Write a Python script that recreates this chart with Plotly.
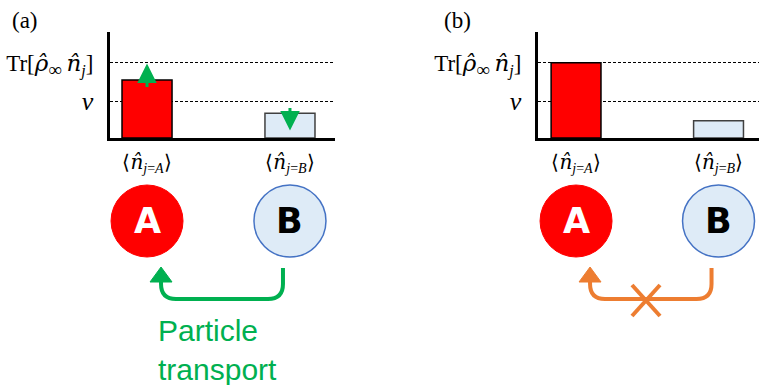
import plotly.graph_objects as go

W, H = 759, 385

# ---- data -------------------------------------------------------------
categories = ["A", "B"]
cat_pos = [0, 1]
occupation_a = [0.77, 0.33]   # panel (a): transport active
occupation_b = [1.00, 0.23]   # panel (b): transport blocked
nu_level = 0.48
tr_level = 1.00
y_top = 1.41

MATH = "font-family:DejaVu Serif"
x_ticktext = [f"⟨<span style='{MATH}'><i>n̂</i></span><sub><i>j</i>=<i>A</i></sub>⟩",
              f"⟨<span style='{MATH}'><i>n̂</i></span><sub><i>j</i>=<i>B</i></sub>⟩"]
y_ticktext = ["<span style='font-size:26px'><i>ν</i></span>",
              f"Tr[<span style='{MATH}'><i>ρ̂</i></span>"
              f"<sub><span style='font-size:19px'>∞</span></sub>"
              f"<span style='{MATH}'>\u2009<i>n̂</i></span><sub><i>j</i></sub>]"]

bar_fill = ["#FF0000", "#DEEBF7"]
bar_edge = ["#000000", "#404040"]
GREEN = "#00B050"
ORANGE = "#ED7D31"
SERIF = "Liberation Serif"

# ---- axis geometry ----------------------------------------------------
y_dom = [1 - 138 / H, 1 - 32 / H]
xa_dom, xa_rng = [110 / W, 335 / W], [-0.259, 1.315]
xb_dom, xb_rng = [538 / W, 1.0], [-0.267, 1.284]


def px(dom, rng, v):
    """pixel x of a category value on a bar axis"""
    return (dom[0] + (v - rng[0]) / (rng[1] - rng[0]) * (dom[1] - dom[0])) * W


def X(p):
    return p / W


def Y(p):
    return 1 - p / H


fig = go.Figure()
for vals, xr, yr in [(occupation_a, "x", "y"), (occupation_b, "x2", "y2")]:
    fig.add_trace(go.Bar(
        x=cat_pos, y=vals, width=0.35, xaxis=xr, yaxis=yr,
        marker=dict(color=bar_fill, line=dict(color=bar_edge, width=1.5)),
        showlegend=False, hoverinfo="skip"))

common_x = dict(showgrid=False, zeroline=False, showline=True, linewidth=3,
                linecolor="black", tickvals=cat_pos, ticktext=x_ticktext,
                ticks="", ticklabelstandoff=4,
                tickfont=dict(family=SERIF, size=20, color="black"),
                fixedrange=True)
common_y = dict(domain=y_dom, range=[0, y_top], showgrid=True, gridcolor="black",
                griddash="3px,2px", gridwidth=1, zeroline=False, showline=True,
                linewidth=3, linecolor="black", tickvals=[nu_level, tr_level],
                ticktext=y_ticktext, ticks="", ticklabelstandoff=9,
                tickfont=dict(family=SERIF, size=23, color="black"),
                fixedrange=True)

fig.update_layout(
    width=W, height=H, margin=dict(l=0, r=0, t=0, b=0),
    plot_bgcolor="white", paper_bgcolor="white",
    xaxis=dict(domain=xa_dom, range=xa_rng, anchor="y", **common_x),
    yaxis=dict(anchor="x", **common_y),
    xaxis2=dict(domain=xb_dom, range=xb_rng, anchor="y2", **common_x),
    yaxis2=dict(anchor="x2", **common_y),
)


def label(text, x, y, size, color, family, **kw):
    d = dict(text=text, x=X(x), y=Y(y), xref="paper", yref="paper",
             showarrow=False, xanchor="center", yanchor="middle",
             font=dict(family=family, size=size, color=color))
    d.update(kw)
    return d


ann = []
# panel letters
ann.append(label("(a)", 25, 20, 23, "black", SERIF))
ann.append(label("(b)", 457, 20, 23, "black", SERIF))

# trend arrows inside the panel (a) bars
for x0, y_from, y_to in [(0, 0.66, 0.99), (1, 0.42, 0.10)]:
    ann.append(dict(x=x0, y=y_to, ax=x0, ay=y_from, xref="x", yref="y",
                    axref="x", ayref="y", text="", showarrow=True,
                    arrowhead=2, arrowsize=1.3, arrowwidth=3,
                    arrowcolor=GREEN, standoff=0))

shapes = []
R = 36
CY = 221
for dom, rng in [(xa_dom, xa_rng), (xb_dom, xb_rng)]:
    ca = px(dom, rng, 0)
    cb = px(dom, rng, 1)
    shapes.append(dict(type="circle", xref="paper", yref="paper",
                       x0=X(ca - R), x1=X(ca + R), y0=Y(CY + R), y1=Y(CY - R),
                       fillcolor="#FF0000", line=dict(color="#FF0000", width=1)))
    shapes.append(dict(type="circle", xref="paper", yref="paper",
                       x0=X(cb - R), x1=X(cb + R), y0=Y(CY + R), y1=Y(CY - R),
                       fillcolor="#DEEBF7", line=dict(color="#4472C4", width=1.5)))
    ann.append(label("<b>A</b>", ca, CY, 35, "white", "DejaVu Sans"))
    ann.append(label("<b>B</b>", cb, CY, 35, "black", "DejaVu Sans"))


def hop_path(xr, xl, top, bottom, rad):
    """U-shaped hop from node B (right) back up to node A (left)"""
    pts = [
        f"M{X(xr)},{Y(top)}",
        f"L{X(xr)},{Y(bottom - rad)}",
        f"Q{X(xr)},{Y(bottom)} {X(xr - rad)},{Y(bottom)}",
        f"L{X(xl + rad)},{Y(bottom)}",
        f"Q{X(xl)},{Y(bottom)} {X(xl)},{Y(bottom - rad)}",
        f"L{X(xl)},{Y(top + 12)}",
    ]
    return " ".join(pts)


def head_path(xt, yt, half, h):
    return (f"M{X(xt)},{Y(yt)} L{X(xt - half)},{Y(yt + h)} "
            f"L{X(xt + half)},{Y(yt + h)} Z")


for dom, rng, col in [(xa_dom, xa_rng, GREEN), (xb_dom, xb_rng, ORANGE)]:
    ca = px(dom, rng, 0) + 14
    cb = px(dom, rng, 1) - 7
    shapes.append(dict(type="path", xref="paper", yref="paper",
                       path=hop_path(cb, ca, 268, 299, 15),
                       line=dict(color=col, width=4)))
    shapes.append(dict(type="path", xref="paper", yref="paper",
                       path=head_path(ca, 267, 11, 15),
                       fillcolor=col, line=dict(color=col, width=1)))

# blocked-transport cross
cx, cy, d = 646, 300, 14
for sx in (-1, 1):
    shapes.append(dict(type="line", xref="paper", yref="paper",
                       x0=X(cx - d * sx), y0=Y(cy - 15), x1=X(cx + d * sx), y1=Y(cy + 16),
                       line=dict(color=ORANGE, width=4)))

ann.append(label("Particle<br>transport", 156, 312, 30, GREEN, "Liberation Sans",
                 xanchor="left", yanchor="top", align="left"))

fig.update_layout(annotations=ann, shapes=shapes)
fig.write_html("out.html")
